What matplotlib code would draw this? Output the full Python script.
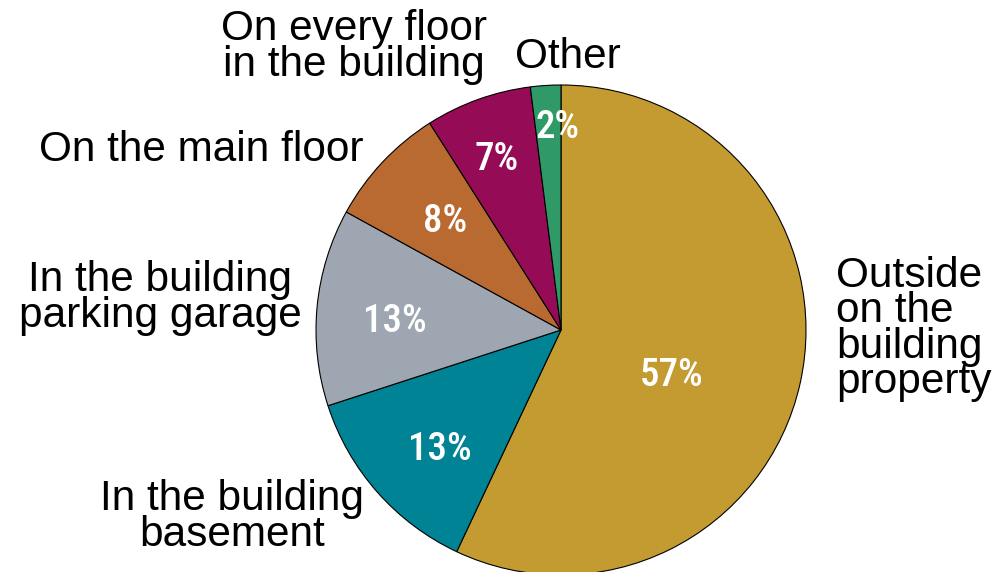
import matplotlib
matplotlib.use("Agg")
import matplotlib.pyplot as plt

labels = [
    "Outside\non the\nbuilding\nproperty",
    "In the building\nbasement",
    "In the building\nparking garage",
    "On the main floor",
    "On every floor\nin the building",
    "Other",
]
values = [57, 13, 13, 8, 7, 2]
colors = ["#C39B31", "#008394", "#9EA7B1", "#B96A31", "#960B55", "#2F9A68"]

# label placement in pixel space (x, y from top), alignment
label_pos = [
    (836, 329, "left"),
    (232, 517, "center"),
    (160, 298, "center"),
    (201, 150, "center"),
    (354, 47, "center"),
    (568, 57, "center"),
]
pct_pos = [(672, 375), (440, 450), (395, 322), (445, 222), (497, 160), (558, 128)]

W, H = 1008, 572
fig = plt.figure(figsize=(W / 100, H / 100), dpi=100)
ax = fig.add_axes([0, 0, 1, 1])
ax.set_xlim(0, W)
ax.set_ylim(0, H)
ax.set_aspect("equal")
ax.axis("off")

ax.pie(values, colors=colors, startangle=90, counterclock=False,
       center=(561, H - 330), radius=245,
       wedgeprops=dict(edgecolor="black", linewidth=0.8))
ax.set_xlim(0, W)
ax.set_ylim(0, H)

for lab, (x, y, ha) in zip(labels, label_pos):
    ax.text(x, H - y, lab, ha=ha, va="center", fontsize=30.5,
            family=["Liberation Sans", "DejaVu Sans"], linespacing=0.85,
            multialignment="center" if ha == "center" else "left")

for v, (x, y) in zip(values, pct_pos):
    ax.text(x, H - y, f"{v}%", ha="center", va="center", fontsize=28,
            color="white",
            family=["Roboto Condensed", "Barlow Condensed", "DejaVu Sans"],
            weight=500)

fig.savefig("out.png", dpi=100)
